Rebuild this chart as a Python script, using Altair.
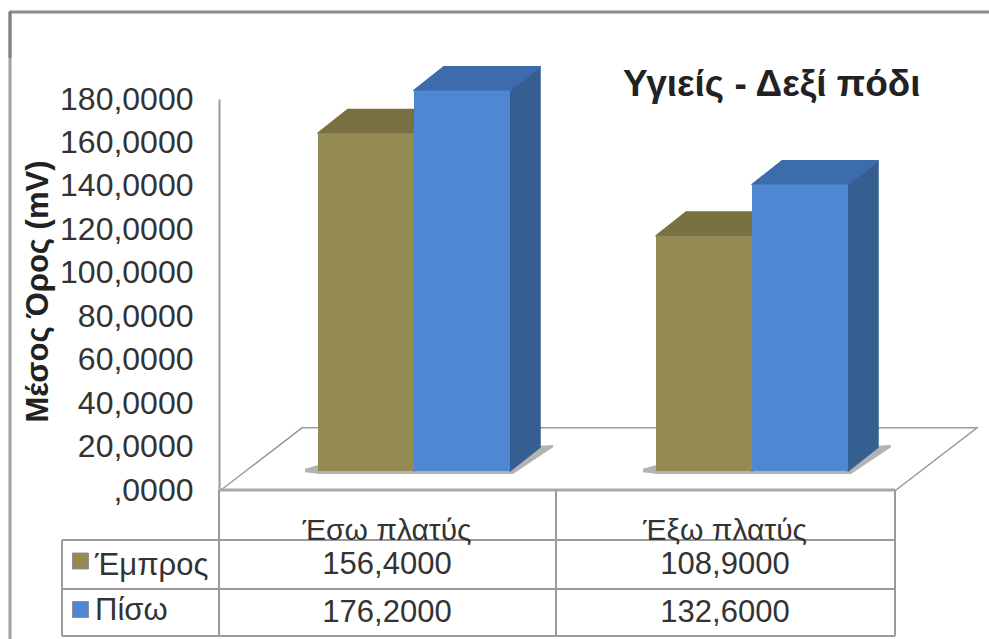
import altair as alt
import pandas as pd

# Mean values (mV) per region and foot position
categories = ["Έσω πλατύς", "Έξω πλατύς"]
series = ["Έμπρος", "Πίσω"]
front_values = [156.4, 108.9]
back_values = [176.2, 132.6]
value_ticks = [0, 20, 40, 60, 80, 100, 120, 140, 160, 180]

FONT = "Liberation Sans"
INK = "#333333"
GRID = "#9a9a9a"

# Layout of the pseudo-3D drawing, in pixels of the 989x639 canvas
GROUP_LEFT = [318, 656]
BAR_W = 96
DEPTH_X = 30
DEPTH_V = 11.0          # bar depth expressed in value units
CELL_X = [387, 725]

FACE = {"Έμπρος": "#948a54", "Πίσω": "#4f87d2"}
SIDE = {"Έμπρος": "#6e673e", "Πίσω": "#365f91"}
TOP = {"Έμπρος": "#7a7142", "Πίσω": "#3c6cab"}

x_scale = alt.Scale(domain=[0, 989], range=[0, 989], nice=False, zero=False)
bar_scale = alt.Scale(domain=[0, 180], range=[471, 82.2], nice=False, zero=False)
axis_scale = alt.Scale(domain=[0, 180], range=[490, 99], nice=False, zero=False)


def x_enc():
    return alt.X("x:Q", scale=x_scale, axis=None)


def y_enc():
    return alt.Y("top:Q", scale=bar_scale, axis=None, stack=None)


def bar_layers(name, values):
    """Front, side and top faces of one series' columns."""
    s = series.index(name)
    fronts, sides, tops = [], [], []
    for c, v in enumerate(values):
        left = GROUP_LEFT[c] + s * BAR_W
        right = left + BAR_W
        fronts.append({"x": left, "x1": right, "top": v, "base": 0})
        sides += [
            {"id": c, "x": right, "top": v, "base": 0},
            {"id": c, "x": right + DEPTH_X, "top": v + DEPTH_V, "base": DEPTH_V},
        ]
        tops += [
            {"id": c, "x": left, "top": v, "base": v},
            {"id": c, "x": left + DEPTH_X, "top": v + DEPTH_V, "base": v},
            {"id": c, "x": right, "top": v + DEPTH_V, "base": v},
            {"id": c, "x": right + DEPTH_X, "top": v + DEPTH_V, "base": v + DEPTH_V},
        ]
    side = alt.Chart(pd.DataFrame(sides)).mark_area(
        color=SIDE[name], stroke=SIDE[name], strokeWidth=1.5, strokeJoin="round").encode(
        x=x_enc(), y=y_enc(), y2="base:Q", detail="id:N")
    top = alt.Chart(pd.DataFrame(tops)).mark_area(
        color=TOP[name], stroke=TOP[name], strokeWidth=1.5, strokeJoin="round").encode(
        x=x_enc(), y=y_enc(), y2="base:Q", detail="id:N")
    front = alt.Chart(pd.DataFrame(fronts)).mark_rect(color=FACE[name]).encode(
        x=x_enc(), x2="x1:Q", y=y_enc(), y2="base:Q")
    return [side, top, front]


def hline(y, x0, x1, color=GRID, width=2):
    return alt.Chart(pd.DataFrame({"k": [0]})).mark_rule(color=color, strokeWidth=width).encode(
        x=alt.value(x0), x2=alt.value(x1), y=alt.value(y))


def vline(x, y0, y1, color=GRID, width=2):
    return alt.Chart(pd.DataFrame({"k": [0]})).mark_rule(color=color, strokeWidth=width).encode(
        x=alt.value(x), y=alt.value(y0), y2=alt.value(y1))


def label(text, x, y, align="center", size=31):
    return alt.Chart(pd.DataFrame({"t": [text]})).mark_text(
        font=FONT, fontSize=size, color=INK, align=align, baseline="middle").encode(
        x=alt.value(x), y=alt.value(y), text="t:N")


def comma(v):
    return f"{v:.4f}".replace(".", ",")


# Value axis with its wall edge, carried by an otherwise empty layer
axis_layer = alt.Chart(pd.DataFrame({"v": value_ticks})).mark_point(opacity=0).encode(
    y=alt.Y(
        "v:Q",
        scale=axis_scale,
        axis=alt.Axis(
            values=value_ticks,
            offset=-219,
            ticks=False,
            grid=False,
            domainColor=GRID,
            domainWidth=2,
            labelFont=FONT,
            labelFontSize=32,
            labelColor=INK,
            labelPadding=26,
            labelExpr="datum.value == 0 ? ',0000' : replace(format(datum.value, '.4f'), '.', ',')",
            title="Μέσος Όρος (mV)",
            titleFont=FONT,
            titleFontSize=31,
            titleFontWeight="bold",
            titleColor="#222222",
            titleX=-181,
            titleY=291,
            titleAngle=270,
            titleAlign="center",
            titleBaseline="middle",
        ),
    )
)

# Floor of the 3D plot: front edge at zero, back edge pushed up by the depth
floor = alt.Chart(pd.DataFrame({
    "x": [221, 302, 896, 977],
    "top": [0, 28.6, 28.6, 28.6],
    "base": [0, 0, 0, 28.6],
})).mark_area(fill="white", stroke=GRID, strokeWidth=1.5).encode(
    x=x_enc(),
    y=alt.Y("top:Q", scale=axis_scale, axis=None, stack=None),
    y2="base:Q",
)

# Contact shadow cast on the floor by each column pair
shadow_rows = []
for c, left in enumerate(GROUP_LEFT):
    right = left + 2 * BAR_W
    shadow_rows += [
        {"id": c, "x": left - 13, "top": 1.0, "base": -0.6},
        {"id": c, "x": left + 2, "top": 3.0, "base": -1.4},
        {"id": c, "x": right + 3, "top": DEPTH_V, "base": -1.4},
        {"id": c, "x": right + DEPTH_X + 13, "top": DEPTH_V + 1.0, "base": DEPTH_V},
    ]
shadow = alt.Chart(pd.DataFrame(shadow_rows)).mark_area(color="#8a8a8a", opacity=0.65).encode(
    x=x_enc(), y=y_enc(), y2="base:Q", detail="id:N")

layers = [axis_layer, floor, shadow]
layers += bar_layers("Έμπρος", front_values)
layers += bar_layers("Πίσω", back_values)

# Outer frame
layers += [
    hline(12, 9, 989, "#8c8c8c", 3),
    vline(10, 12, 639, "#a0a0a0", 3),
    vline(10, 12, 58, "#808080", 3),
]

# Data table grid
layers += [
    hline(490, 219, 895, "#a8a8a8", 3),
    hline(540, 62, 895),
    hline(589, 62, 895),
    hline(636, 62, 895),
    vline(62, 540, 636),
    vline(219, 490, 636),
    vline(556, 490, 636),
    vline(895, 490, 636),
]

# Data table contents
for c, name in enumerate(categories):
    layers.append(label(name, CELL_X[c], 531, size=30))
    layers.append(label(comma(front_values[c]), CELL_X[c], 565))
    layers.append(label(comma(back_values[c]), CELL_X[c], 613))

# Legend keys and series names in the table's first column
key_y = [561, 609.5]
text_y = [566, 611]
for name, ky, ty in zip(series, key_y, text_y):
    layers.append(alt.Chart(pd.DataFrame({"s": [name]})).mark_square(
        size=256, color=FACE[name], stroke="#8f8f8f", strokeWidth=1, opacity=1).encode(
        x=alt.value(80.5), y=alt.value(ky)))
    layers.append(label(name, 95, ty, align="left"))

chart = alt.layer(*layers).resolve_scale(y="independent").properties(
    width=989,
    height=639,
    padding=0,
    autosize=alt.AutoSizeParams(type="none"),
    background="white",
    title=alt.TitleParams(
        text="Υγιείς - Δεξί πόδι",
        font=FONT,
        fontSize=37,
        fontWeight="bold",
        color="#222222",
        anchor="start",
        frame="group",
        dx=623,
        dy=122,
        baseline="middle",
        offset=0,
    ),
).configure_view(stroke=None)

chart.save("out.html", embed_options={"renderer": "svg", "actions": False})
